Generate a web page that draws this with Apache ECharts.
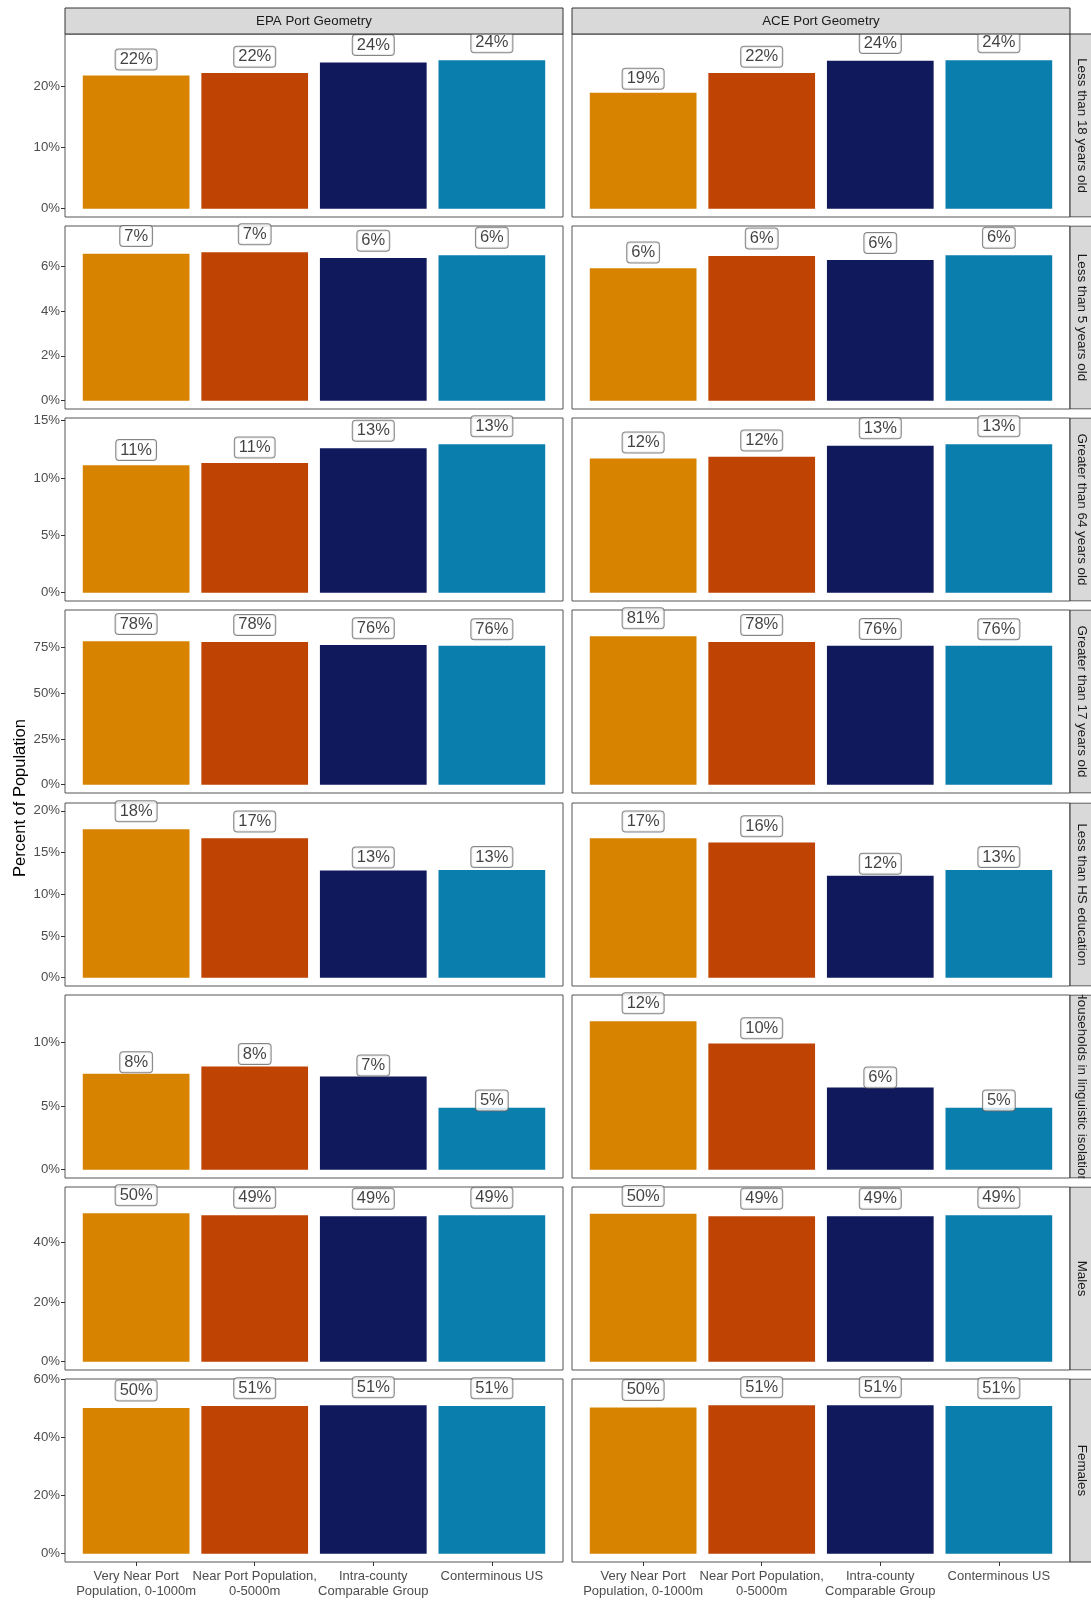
<!DOCTYPE html>
<html>
<head>
<meta charset="utf-8">
<script src="https://cdn.jsdelivr.net/npm/echarts@6/dist/echarts.min.js"></script>
<style>
  html, body { margin: 0; padding: 0; background: #ffffff; }
  #chart { width: 1091px; height: 1602px; }
</style>
</head>
<body>
<div id="chart"></div>
<script>
// Comparison groups (x categories) and port geometry facets (columns)
const categories = [
  'Very Near Port\nPopulation, 0-1000m',
  'Near Port Population,\n0-5000m',
  'Intra-county\nComparable Group',
  'Conterminous US'
];
const geometries = ['EPA Port Geometry', 'ACE Port Geometry'];

// Demographic measures (facet rows)
const measures = [
  'Less than 18 years old',
  'Less than 5 years old',
  'Greater than 64 years old',
  'Greater than 17 years old',
  'Less than HS education',
  'Households in linguistic isolation',
  'Males',
  'Females'
];

// Percent of population, one array per measure and geometry
const epaUnder18 = [21.7, 22.1, 23.8, 24.2];
const aceUnder18 = [18.9, 22.1, 24.1, 24.2];
const epaUnder5 = [6.55, 6.62, 6.36, 6.48];
const aceUnder5 = [5.9, 6.45, 6.27, 6.48];
const epaOver64 = [11.1, 11.3, 12.6, 12.95];
const aceOver64 = [11.7, 11.85, 12.8, 12.95];
const epaOver17 = [78.3, 77.9, 76.2, 75.8];
const aceOver17 = [81.1, 77.9, 75.9, 75.8];
const epaNoHS = [17.8, 16.7, 12.85, 12.9];
const aceNoHS = [16.7, 16.2, 12.2, 12.9];
const epaLingIso = [7.52, 8.1, 7.3, 4.85];
const aceLingIso = [11.65, 9.9, 6.45, 4.85];
const epaMales = [49.8, 49.1, 48.8, 49.1];
const aceMales = [49.6, 48.8, 48.8, 49.1];
const epaFemales = [50.2, 50.9, 51.2, 50.9];
const aceFemales = [50.4, 51.2, 51.2, 50.9];

// Y tick values per row
const under18Ticks = [0, 10, 20];
const under5Ticks = [0, 2, 4, 6];
const over64Ticks = [0, 5, 10, 15];
const over17Ticks = [0, 25, 50, 75];
const noHSTicks = [0, 5, 10, 15, 20];
const lingIsoTicks = [0, 5, 10];
const malesTicks = [0, 20, 40];
const femalesTicks = [0, 20, 40, 60];

const rowValues = [
  [epaUnder18, aceUnder18], [epaUnder5, aceUnder5], [epaOver64, aceOver64],
  [epaOver17, aceOver17], [epaNoHS, aceNoHS], [epaLingIso, aceLingIso],
  [epaMales, aceMales], [epaFemales, aceFemales]
];
const rowTicks = [under18Ticks, under5Ticks, over64Ticks, over17Ticks,
  noHSTicks, lingIsoTicks, malesTicks, femalesTicks];

const barColors = ['#D78300', '#BF4302', '#0F195C', '#0A7EAD'];

// Layout
const FONT = '"Liberation Sans", Arial, Helvetica, sans-serif';
const colLeft = [65, 572];
const colWidth = 498;
const rowTop0 = 34;
const rowPitch = 192.14;
const rowHeight = 183;
const stripSize = 26;
const xMin = 0.4, xMax = 4.6;
const unitPx = colWidth / (xMax - xMin);
const barWidthPx = 0.9 * unitPx;
const labelLift = 1.12;   // labels sit at value * labelLift

function rowTop(r) { return Math.round(rowTop0 + r * rowPitch); }

const grids = [], xAxes = [], yAxes = [], series = [];
let idx = 0;
rowValues.forEach((pair, r) => {
  const top = Math.max(...pair[0], ...pair[1]) * labelLift;
  const yLo = -0.05 * top, yHi = 1.05 * top;
  pair.forEach((vals, c) => {
    grids.push({
      left: colLeft[c], top: rowTop(r), width: colWidth, height: rowHeight,
      show: true, borderColor: '#555', borderWidth: 1, backgroundColor: 'transparent',
      containLabel: false
    });
    xAxes.push({
      type: 'value', gridIndex: idx, min: xMin, max: xMax,
      splitLine: { show: false }, axisLine: { show: false },
      axisTick: { show: false }, axisLabel: { show: false }
    });
    yAxes.push({
      type: 'value', gridIndex: idx, min: yLo, max: yHi,
      splitLine: { show: false }, axisLine: { show: false },
      axisTick: { show: c === 0, length: 4, lineStyle: { color: '#333' }, customValues: rowTicks[r] },
      axisLabel: {
        show: c === 0, customValues: rowTicks[r], margin: 5,
        hideOverlap: false,
        formatter: v => Math.round(v) + '%',
        color: '#4d4d4d', fontSize: 13.2, fontFamily: FONT
      }
    });
    series.push({
      type: 'bar', xAxisIndex: idx, yAxisIndex: idx, barWidth: barWidthPx,
      data: vals.map((v, i) => ({ value: [i + 1, v], itemStyle: { color: barColors[i] } })),
      silent: true
    });
    series.push({
      type: 'scatter', xAxisIndex: idx, yAxisIndex: idx, symbolSize: 1,
      itemStyle: { color: 'rgba(0,0,0,0)' }, silent: true, clip: false,
      data: vals.map((v, i) => [i + 1, v * labelLift, v]),
      label: {
        show: true, position: 'inside',
        formatter: p => Math.round(p.value[2]) + '%',
        fontFamily: FONT, fontSize: 16.5, color: '#111',
        backgroundColor: '#ffffff', borderColor: '#666', borderWidth: 1, borderRadius: 3,
        padding: [2, 4, 1, 4]
      }
    });
    idx++;
  });
});

// Category axes under the bottom row: bands span x = 0.5 .. 4.5 of the panel scale
const lastRow = rowValues.length - 1;
[0, 1].forEach(c => {
  grids.push({
    left: colLeft[c] + (0.5 - xMin) * unitPx, top: rowTop(lastRow),
    width: 4 * unitPx, height: rowHeight, show: false, containLabel: false
  });
  xAxes.push({
    type: 'category', gridIndex: idx, data: categories, boundaryGap: true,
    axisLine: { show: false }, splitLine: { show: false },
    axisTick: { show: true, alignWithLabel: true, interval: 0, length: 4, lineStyle: { color: '#333' } },
    axisLabel: {
      show: true, interval: 0, margin: 7, hideOverlap: false,
      color: '#4d4d4d', fontSize: 13, lineHeight: 15, fontFamily: FONT, align: 'center'
    }
  });
  yAxes.push({ type: 'value', gridIndex: idx, show: false, min: 0, max: 1 });
  idx++;
});

// Facet strips and the shared y-axis title
const graphic = [];
geometries.forEach((g, c) => {
  graphic.push({
    type: 'rect', z: 10,
    shape: { x: colLeft[c], y: rowTop0 - stripSize, width: colWidth, height: stripSize },
    style: { fill: '#d9d9d9', stroke: '#333', lineWidth: 1 }
  });
  graphic.push({
    type: 'text', z: 11,
    x: colLeft[c] + colWidth / 2, y: rowTop0 - stripSize / 2,
    style: { text: g, fontSize: 13.3, fontFamily: FONT, fill: '#1a1a1a',
      align: 'center', verticalAlign: 'middle', textAlign: 'center', textVerticalAlign: 'middle' }
  });
});
const stripX = colLeft[1] + colWidth;
measures.forEach((m, r) => {
  graphic.push({
    type: 'rect', z: 10,
    shape: { x: stripX, y: rowTop(r), width: stripSize, height: rowHeight },
    style: { fill: '#d9d9d9', stroke: '#333', lineWidth: 1 }
  });
  graphic.push({
    type: 'text', z: 11,
    x: stripX + 11.5, y: rowTop(r) + rowHeight / 2, rotation: -Math.PI / 2,
    style: { text: m, fontSize: 13.4, fontFamily: FONT, fill: '#1a1a1a',
      align: 'center', verticalAlign: 'middle', textAlign: 'center', textVerticalAlign: 'middle' }
  });
  // strip labels are clipped at the strip edges
  if (r > 0) {
    graphic.push({
      type: 'rect', z: 12,
      shape: { x: stripX - 0.5, y: rowTop(r - 1) + rowHeight + 0.5, width: stripSize + 2,
        height: rowTop(r) - rowTop(r - 1) - rowHeight - 1 },
      style: { fill: '#ffffff' }
    });
  }
});
graphic.push({
  type: 'text', z: 11,
  x: 20, y: (rowTop0 + rowTop(7) + rowHeight) / 2, rotation: Math.PI / 2,
  style: { text: 'Percent of Population', fontSize: 16.5, fontFamily: FONT, fill: '#000',
    align: 'center', verticalAlign: 'middle', textAlign: 'center', textVerticalAlign: 'middle' }
});

const chart = echarts.init(document.getElementById('chart'), null, { renderer: 'canvas' });
chart.setOption({
  animation: false,
  backgroundColor: '#ffffff',
  grid: grids,
  xAxis: xAxes,
  yAxis: yAxes,
  series: series,
  graphic: graphic
});
</script>
</body>
</html>
